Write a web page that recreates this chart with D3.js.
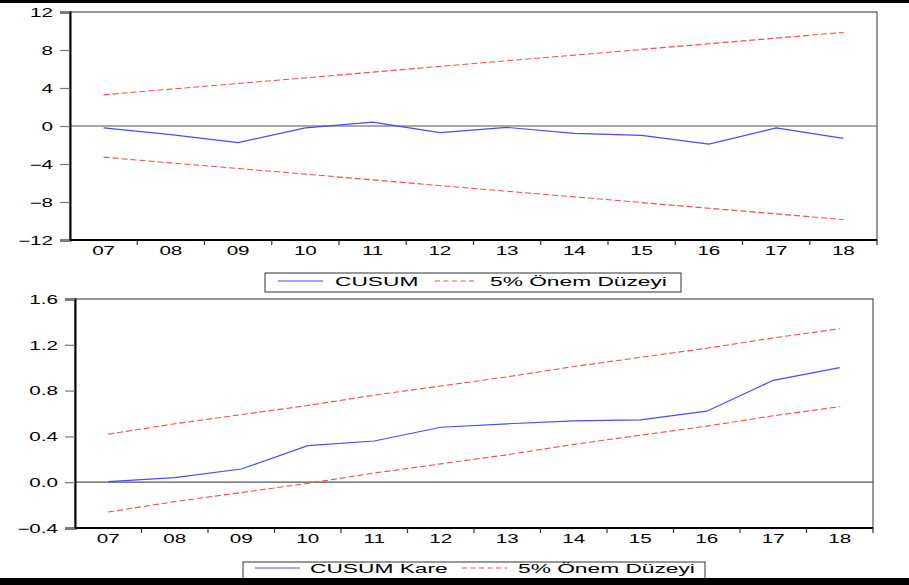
<!DOCTYPE html>
<html>
<head>
<meta charset="utf-8">
<script src="https://cdn.jsdelivr.net/npm/d3@7"></script>
<style>
  body { margin: 0; background: #fff; }
  text { font-family: "Liberation Sans", Arial, sans-serif; fill: #000; }
</style>
</head>
<body>
<script>
// chart data
let years = ["07", "08", "09", "10", "11", "12", "13", "14", "15", "16", "17", "18"];

let cusum = [-0.2, -0.9, -1.75, -0.2, 0.4, -0.7, -0.15, -0.77, -0.98, -1.9, -0.2, -1.3];
let cusumUpper = [3.28, 3.88, 4.48, 5.07, 5.67, 6.27, 6.87, 7.46, 8.06, 8.66, 9.25, 9.85];
let cusumLower = [-3.28, -3.88, -4.48, -5.07, -5.67, -6.27, -6.87, -7.46, -8.06, -8.66, -9.25, -9.85];
let cusumTicks = [-12, -8, -4, 0, 4, 8, 12];

let cusumSq = [0.005, 0.04, 0.115, 0.32, 0.36, 0.48, 0.51, 0.535, 0.545, 0.62, 0.89, 1.0];
let sqUpper = [0.42, 0.51, 0.59, 0.67, 0.76, 0.84, 0.92, 1.01, 1.09, 1.17, 1.26, 1.34];
let sqLower = [-0.26, -0.17, -0.09, -0.01, 0.08, 0.16, 0.24, 0.33, 0.41, 0.49, 0.58, 0.66];
let sqTicks = [-0.4, 0.0, 0.4, 0.8, 1.2, 1.6];

let width = 909;
let height = 585;
let stretch = 1.72; // the picture's text is stretched sideways
let blue = "#4a4aff";
let red = "#ff4a4a";

let svg = d3.select("body")
  .append("svg")
  .attr("width", width)
  .attr("height", height);

// black bars at top and bottom edge
svg.append("rect").attr("x", 0).attr("y", 0).attr("width", width).attr("height", 3).attr("fill", "#000");
svg.append("rect").attr("x", 0).attr("y", 578).attr("width", width).attr("height", 7).attr("fill", "#000");

function drawPanel(p) {
  let x = d3.scaleBand().domain(years).range([p.left, p.right]);
  let y = d3.scaleLinear().domain(p.domain).range([p.bottom, p.top]);
  let cx = d => x(d) + x.bandwidth() / 2;

  let g = svg.append("g");

  // frame
  g.append("rect")
    .attr("x", p.left).attr("y", p.top)
    .attr("width", p.right - p.left).attr("height", p.bottom - p.top)
    .attr("fill", "none").attr("stroke", "#333").attr("stroke-width", 1);

  // zero line
  g.append("line")
    .attr("x1", p.left).attr("x2", p.right)
    .attr("y1", y(0)).attr("y2", y(0))
    .attr("stroke", "#555").attr("stroke-width", 1.2);

  // y axis
  let yAxis = d3.axisLeft(y).tickValues(p.ticks).tickSize(10).tickFormat(p.fmt);
  let ya = g.append("g").attr("transform", `translate(${p.left},0)`).call(yAxis);
  ya.select(".domain").attr("stroke", "#000").attr("stroke-width", 2);
  ya.selectAll(".tick line").attr("stroke", "#777").attr("stroke-width", 1.2);
  ya.selectAll(".tick text")
    .attr("x", 0).attr("dy", "0.36em")
    .attr("transform", `translate(-17,0) scale(${stretch},1)`)
    .style("font-size", "12px").attr("fill", "#000");

  // x axis: labels centred on bands, ticks on band edges
  let xAxis = d3.axisBottom(x).tickSize(0).tickPadding(0);
  let xa = g.append("g").attr("transform", `translate(0,${p.bottom})`).call(xAxis);
  xa.select(".domain").remove();
  xa.selectAll(".tick text")
    .attr("y", 0).attr("dy", null)
    .attr("transform", `translate(0,15) scale(${stretch},1)`)
    .style("font-size", "12px").attr("fill", "#000");
  g.append("line")
    .attr("x1", p.left).attr("x2", p.right)
    .attr("y1", p.bottom).attr("y2", p.bottom)
    .attr("stroke", "#000").attr("stroke-width", 2);
  g.selectAll(".edge")
    .data(years.slice(1).concat(["end"]))
    .enter()
    .append("line")
    .attr("x1", d => d === "end" ? p.right : x(d))
    .attr("x2", d => d === "end" ? p.right : x(d))
    .attr("y1", p.bottom).attr("y2", p.bottom + 5)
    .attr("stroke", "#333").attr("stroke-width", 1.2);

  let line = d3.line().x((d, i) => cx(years[i])).y(d => y(d));

  [p.upper, p.lower].forEach(s => {
    g.append("path")
      .attr("d", line(s))
      .attr("fill", "none")
      .attr("stroke", red)
      .attr("stroke-width", 1.1)
      .attr("stroke-dasharray", "6,3");
  });
  g.append("path")
    .attr("d", line(p.values))
    .attr("fill", "none")
    .attr("stroke", blue)
    .attr("stroke-width", 1.2);

  // legend
  let lg = p.legend;
  g.append("rect")
    .attr("x", lg.x).attr("y", lg.y)
    .attr("width", lg.w).attr("height", lg.h)
    .attr("fill", "#fff").attr("stroke", "#333").attr("stroke-width", 1);
  g.append("line")
    .attr("x1", lg.blue[0]).attr("x2", lg.blue[1])
    .attr("y1", lg.cy).attr("y2", lg.cy)
    .attr("stroke", blue).attr("stroke-width", 1.2);
  g.append("line")
    .attr("x1", lg.red[0]).attr("x2", lg.red[1])
    .attr("y1", lg.cy).attr("y2", lg.cy)
    .attr("stroke", red).attr("stroke-width", 1.2)
    .attr("stroke-dasharray", "5,3.5");
  g.append("text")
    .attr("transform", `translate(${lg.t1},${lg.cy + 4.5}) scale(1.75,1)`)
    .style("font-size", "13px")
    .text(lg.label);
  g.append("text")
    .attr("transform", `translate(${lg.t2},${lg.cy + 4.5}) scale(1.75,1)`)
    .style("font-size", "13px")
    .text("5% Önem Düzeyi");
}

drawPanel({
  left: 70, right: 877, top: 12, bottom: 240,
  domain: [-12, 12], ticks: cusumTicks, fmt: d3.format("d"),
  values: cusum, upper: cusumUpper, lower: cusumLower,
  legend: { x: 265, y: 273, w: 416, h: 19, cy: 281, blue: [278, 323], red: [435, 477], t1: 335, t2: 490, label: "CUSUM" }
});

drawPanel({
  left: 75, right: 873, top: 299, bottom: 528,
  domain: [-0.4, 1.6], ticks: sqTicks, fmt: d3.format(".1f"),
  values: cusumSq, upper: sqUpper, lower: sqLower,
  legend: { x: 243, y: 562, w: 462, h: 22, cy: 568, blue: [255, 300], red: [462, 507], t1: 310, t2: 518, label: "CUSUM Kare" }
});

// keep the bottom bar above the legend box
svg.append("rect").attr("x", 0).attr("y", 578).attr("width", width).attr("height", 7).attr("fill", "#000");
</script>
</body>
</html>
